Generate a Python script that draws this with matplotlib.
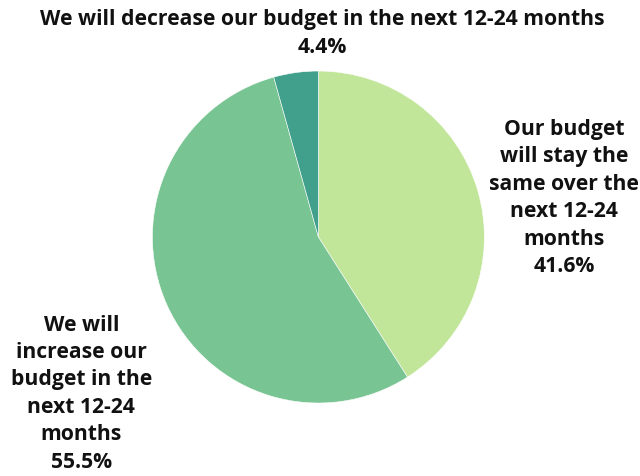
import matplotlib.pyplot as plt

labels = ["Our budget\nwill stay the\nsame over the\nnext 12-24\nmonths",
          "We will\nincrease our\nbudget in the\nnext 12-24\nmonths",
          "We will decrease our budget in the next 12-24 months"]
shares = [41.6, 55.5, 4.4]
colors = ["#c2e699", "#78c492", "#41a08c"]

plt.rcParams['font.family'] = ['Open Sans', 'DejaVu Sans']

fig = plt.figure(figsize=(6.4, 4.77), dpi=100)
ax = fig.add_axes([0.238, 0.153, 0.519, 0.696])
ax.pie(shares, colors=colors, startangle=90, counterclock=False,
       wedgeprops=dict(edgecolor="white", linewidth=0.4))
ax.set_xlim(-1, 1)
ax.set_ylim(-1, 1)
ax.set_aspect("equal")
ax.axis("off")

txt = dict(fontsize=15.2, fontweight="bold", color="#111111",
           ha="center", va="center", linespacing=1.4)
fig.text(0.881, 0.585, "%s\n%.1f%%" % (labels[0], shares[0]), **txt)
fig.text(0.127, 0.175, "%s\n%.1f%%" % (labels[1], shares[1]), **txt)
fig.text(0.503, 0.930, "%s\n%.1f%%" % (labels[2], shares[2]), **txt)

fig.savefig("out.png", dpi=100)
